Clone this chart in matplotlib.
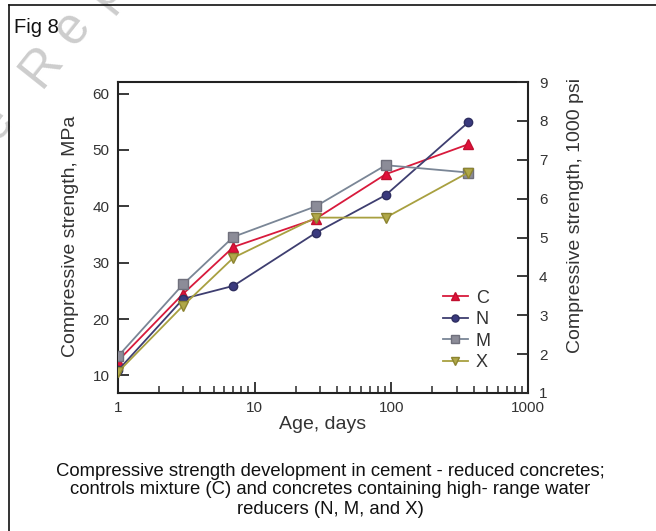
import math
import matplotlib
matplotlib.use("Agg")
import matplotlib.pyplot as plt
from matplotlib.lines import Line2D
from matplotlib.ticker import LogLocator, NullFormatter, FixedLocator

plt.rcParams['font.family'] = ['Liberation Sans', 'DejaVu Sans']

# Age of test specimens, days
age_days = [1, 3, 7, 28, 91, 365]

# Compressive strength, MPa
strength_c = [12.6, 24.5, 32.8, 37.8, 45.7, 51.0]
strength_n = [10.9, 23.6, 25.9, 35.3, 42.0, 54.9]
strength_m = [13.4, 26.2, 34.6, 40.0, 47.3, 46.0]
strength_x = [10.6, 22.4, 30.9, 38.0, 38.0, 46.0]

series_names = ["C", "N", "M", "X"]
y_ticks_mpa = [10, 20, 30, 40, 50, 60]
y_ticks_ksi = [1, 2, 3, 4, 5, 6, 7, 8, 9]
x_ticks = [1, 10, 100, 1000]

MPA_PER_KSI = 6.895

caption_lines = [
    "Compressive strength development in cement - reduced concretes;",
    "controls mixture (C) and concretes containing high- range water",
    "reducers (N, M, and X)",
]
watermark = "Sample Report"

W, H = 656, 531
fig = plt.figure(figsize=(W / 100, H / 100), dpi=100)
fig.patch.set_facecolor("white")


def fx(px):
    return px / W


def fy(py):
    return 1 - py / H


# light diagonal watermark, letter-spaced along a slanted line
wm_angle = 51.5
pitch = 49.0
dx, dy = math.cos(math.radians(wm_angle)), math.sin(math.radians(wm_angle))
r_index = watermark.index("R")
r_center = (42.0, 66.0)
offsets = [0.0]
for i in range(1, len(watermark)):
    near_space = watermark[i] == " " or watermark[i - 1] == " "
    offsets.append(offsets[-1] + (0.75 * pitch if near_space else pitch))
base = offsets[r_index]
for ch, off in zip(watermark, offsets):
    if ch == " ":
        continue
    d = off - base
    px = r_center[0] + d * dx
    py = r_center[1] - d * dy
    fig.text(fx(px), fy(py), ch, fontsize=37, color="#cdcdcd",
             rotation=wm_angle, ha="center", va="center",
             rotation_mode="anchor", zorder=0)

ax = fig.add_axes([fx(118), fy(393), fx(528) - fx(118), fy(82) - fy(393)])
ax.patch.set_alpha(0)

styles = [
    dict(color="#d81a3c", mfc="#e0103a", mec="#c0102f", marker="^", ms=7),
    dict(color="#3e3e70", mfc="#3a3a7e", mec="#2e2e60", marker="o", ms=6),
    dict(color="#7a8696", mfc="#8c8c98", mec="#70707c", marker="s", ms=6.5),
    dict(color="#a8a040", mfc="#b0a848", mec="#8c8430", marker="v", ms=7),
]
data = [strength_c, strength_n, strength_m, strength_x]
order = [1, 3, 0, 2]
for i in order:
    st = styles[i]
    ax.plot(age_days, data[i], color=st["color"], lw=1.3, marker=st["marker"],
            ms=st["ms"], mfc=st["mfc"], mec=st["mec"], label=series_names[i],
            zorder=3 + i)

ax.set_xscale("log")
ax.set_xlim(1, 1000)
ax.set_ylim(MPA_PER_KSI, 9 * MPA_PER_KSI)
ax.xaxis.set_major_locator(FixedLocator(x_ticks))
ax.set_xticklabels([str(t) for t in x_ticks])
ax.xaxis.set_minor_locator(LogLocator(base=10, subs=range(2, 10)))
ax.xaxis.set_minor_formatter(NullFormatter())
ax.set_yticks(y_ticks_mpa)

tick_color = "#2a2a2a"
label_color = "#333333"
for sp in ax.spines.values():
    sp.set_linewidth(1.5)
    sp.set_color("#222222")
ax.tick_params(axis="both", which="major", direction="in", length=8, width=1.3,
               colors=tick_color, labelsize=11, labelcolor=label_color)
ax.tick_params(axis="x", which="minor", direction="in", length=5, width=1.1,
               colors=tick_color)
ax.tick_params(axis="x", which="major", pad=6)
ax.tick_params(axis="y", which="major", pad=6)

ax.set_xlabel("Age, days", fontsize=14, color=label_color)
ax.xaxis.set_label_coords(0.5, -0.074)
ax.set_ylabel("Compressive strength, MPa", fontsize=14, color=label_color)
ax.yaxis.set_label_coords(-0.095, 0.505)

ax2 = ax.twinx()
ax2.set_ylim(1, 9)
ax2.set_yticks(y_ticks_ksi)
ax2.tick_params(axis="y", direction="in", length=8, width=1.3, colors=tick_color,
                labelsize=11, labelcolor=label_color, pad=8)
for sp in ax2.spines.values():
    sp.set_visible(False)
ax2.set_ylabel("Compressive strength, 1000 psi", fontsize=14, color=label_color)
ax2.yaxis.set_label_coords(1.095, 0.572)

# legend in the original series order
handles, labels = ax.get_legend_handles_labels()
hmap = dict(zip(labels, handles))
leg = ax.legend([hmap[n] for n in series_names], series_names,
                loc="center left", bbox_to_anchor=(0.771, 0.201), frameon=False,
                handlelength=1.35, handletextpad=0.45, labelspacing=0.25,
                fontsize=13, borderpad=0.0, markerscale=0.85)
for t in leg.get_texts():
    t.set_color(label_color)

# figure frame (left and top edges)
fig.add_artist(Line2D([fx(8.5), fx(8.5)], [0, fy(5)], transform=fig.transFigure,
                      color="#111111", lw=1.2))
fig.add_artist(Line2D([fx(8.5), 1], [fy(5), fy(5)], transform=fig.transFigure,
                      color="#111111", lw=1.2))

fig.text(fx(14), fy(33), "Fig 8", fontsize=14.5, color="#111111", ha="left",
         va="baseline")

for line, yc in zip(caption_lines, [471, 490, 509]):
    fig.text(fx(330), fy(yc), line, fontsize=13.3, color="#111111",
             ha="center", va="center")

fig.savefig("out.png", dpi=100, facecolor="white")
